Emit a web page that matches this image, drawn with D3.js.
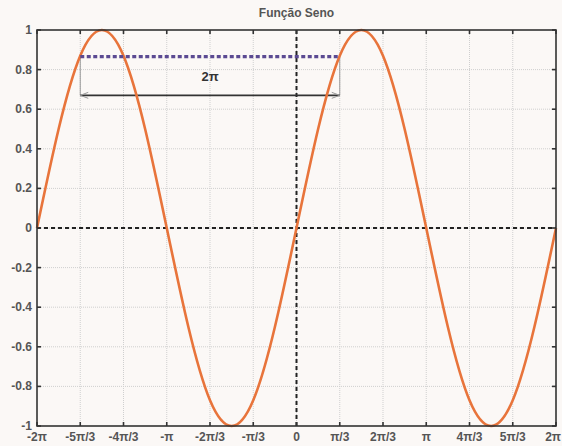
<!DOCTYPE html>
<html><head><meta charset="utf-8">
<script src="https://cdn.jsdelivr.net/npm/d3@7"></script>
<style>
html,body{margin:0;padding:0;background:#fbf8f6;}
svg{display:block;font-family:"Liberation Sans",Arial,sans-serif;}
</style></head>
<body><svg id="c" width="562" height="446"></svg>
<script>
// Sample points of the curve, every π/6 from -2π to 2π (x in units of π)
const xSteps = d3.range(-12, 13).map(k => k / 6);
const sineValues = [0, 0.5, 0.87, 1, 0.87, 0.5, 0, -0.5, -0.87, -1, -0.87, -0.5,
                    0, 0.5, 0.87, 1, 0.87, 0.5, 0, -0.5, -0.87, -1, -0.87, -0.5, 0];
// Axis ticks (x in units of π)
const xTicks = [-2, -5/3, -4/3, -1, -2/3, -1/3, 0, 1/3, 2/3, 1, 4/3, 5/3, 2];
const xTickLabels = ["-2π", "-5π/3", "-4π/3", "-π", "-2π/3", "-π/3", "0", "π/3", "2π/3", "π", "4π/3", "5π/3", "2π"];
const yTicks = [-1, -0.8, -0.6, -0.4, -0.2, 0, 0.2, 0.4, 0.6, 0.8, 1];
const yTickLabels = ["-1", "-0.8", "-0.6", "-0.4", "-0.2", "0", "0.2", "0.4", "0.6", "0.8", "1"];
// Period marker: level of the dotted line, its span, and the arrow level
const periodLevel = 0.866;
const periodSpan = [-5/3, 1/3];
const arrowLevel = 0.67;
const periodLabel = "2π";
const title = "Função Seno";

const W = 562;
const svg = d3.select("#c");
const L = 37, R = 556, T = 30, B = 426;
const x = d3.scaleLinear().domain([-2, 2]).range([L, R]);
const y = d3.scaleLinear().domain([-1, 1]).range([B, T]);

const g = svg.append("g");

// grid
g.append("g").selectAll("line").data(xTicks.slice(1, -1)).join("line")
  .attr("x1", d => x(d)).attr("x2", d => x(d)).attr("y1", T).attr("y2", B)
  .attr("stroke", "#cfcfcf").attr("stroke-width", 1).attr("stroke-dasharray", "1,1");
g.append("g").selectAll("line").data(yTicks.slice(1, -1)).join("line")
  .attr("y1", d => y(d)).attr("y2", d => y(d)).attr("x1", L).attr("x2", R)
  .attr("stroke", "#cfcfcf").attr("stroke-width", 1).attr("stroke-dasharray", "1,1");

// zero lines
g.append("line").attr("x1", x(0)).attr("x2", x(0)).attr("y1", T).attr("y2", B)
  .attr("stroke", "#222").attr("stroke-width", 2).attr("stroke-dasharray", "4,3");
g.append("line").attr("x1", L).attr("x2", R).attr("y1", y(0)).attr("y2", y(0))
  .attr("stroke", "#222").attr("stroke-width", 2).attr("stroke-dasharray", "4,3");

// period marker: vertical guides
[periodSpan[0], periodSpan[1]].forEach(v => {
  g.append("line").attr("x1", x(v)).attr("x2", x(v))
    .attr("y1", y(periodLevel)).attr("y2", y(arrowLevel))
    .attr("stroke", "#9a9a9a").attr("stroke-width", 1);
});
// arrow line
g.append("line").attr("x1", x(periodSpan[0])).attr("x2", x(periodSpan[1]))
  .attr("y1", y(arrowLevel)).attr("y2", y(arrowLevel))
  .attr("stroke", "#333").attr("stroke-width", 1.6);
// open arrowheads
const ah = (px, dir) => {
  const py = y(arrowLevel);
  g.append("path")
    .attr("d", `M${px + dir * 8},${py - 3}L${px},${py}L${px + dir * 8},${py + 3}`)
    .attr("fill", "none").attr("stroke", "#999").attr("stroke-width", 1);
};
ah(x(periodSpan[0]), 1);
ah(x(periodSpan[1]), -1);

g.append("text").attr("x", x(-2/3)).attr("y", y(0.74))
  .attr("text-anchor", "middle").attr("font-size", 13).attr("font-weight", "bold")
  .attr("fill", "#333").text(periodLabel);

// sine curve
const line = d3.line().x((d, i) => x(xSteps[i])).y(d => y(d)).curve(d3.curveNatural);
g.append("path").datum(sineValues).attr("d", line)
  .attr("fill", "none").attr("stroke", "#e8743b").attr("stroke-width", 2.6);

// period dotted line
g.append("line").attr("x1", x(periodSpan[0])).attr("x2", x(periodSpan[1]))
  .attr("y1", y(periodLevel)).attr("y2", y(periodLevel))
  .attr("stroke", "#5b4a92").attr("stroke-width", 3.2).attr("stroke-dasharray", "4,2.5");

// frame
g.append("rect").attr("x", L).attr("y", T).attr("width", R - L).attr("height", B - T)
  .attr("fill", "none").attr("stroke", "#333").attr("stroke-width", 1.6);

// inward ticks
const tk = 4;
g.append("g").selectAll("line").data(xTicks).join("line")
  .attr("x1", d => x(d)).attr("x2", d => x(d)).attr("y1", B).attr("y2", B - tk)
  .attr("stroke", "#333").attr("stroke-width", 1.6);
g.append("g").selectAll("line").data(xTicks).join("line")
  .attr("x1", d => x(d)).attr("x2", d => x(d)).attr("y1", T).attr("y2", T + tk)
  .attr("stroke", "#333").attr("stroke-width", 1.6);
g.append("g").selectAll("line").data(yTicks).join("line")
  .attr("x1", L).attr("x2", L + tk).attr("y1", d => y(d)).attr("y2", d => y(d))
  .attr("stroke", "#333").attr("stroke-width", 1.6);
g.append("g").selectAll("line").data(yTicks).join("line")
  .attr("x1", R).attr("x2", R - tk).attr("y1", d => y(d)).attr("y2", d => y(d))
  .attr("stroke", "#333").attr("stroke-width", 1.6);

// tick labels (the last one is kept inside the page edge)
g.append("g").selectAll("text").data(xTicks).join("text")
  .attr("y", B + 15).attr("text-anchor", "middle")
  .attr("font-size", 12).attr("font-weight", "bold").attr("fill", "#555")
  .text((d, i) => xTickLabels[i])
  .attr("x", function (d) {
    const w = this.getComputedTextLength();
    return Math.min(x(d), W - 1 - w / 2);
  });
g.append("g").selectAll("text").data(yTicks).join("text")
  .attr("x", L - 5).attr("y", d => y(d) + 4).attr("text-anchor", "end")
  .attr("font-size", 12).attr("font-weight", "bold").attr("fill", "#555")
  .text((d, i) => yTickLabels[i]);

// title
svg.append("text").attr("x", x(0)).attr("y", 17).attr("text-anchor", "middle")
  .attr("font-size", 12).attr("font-weight", "bold").attr("fill", "#555").text(title);
</script></body></html>
